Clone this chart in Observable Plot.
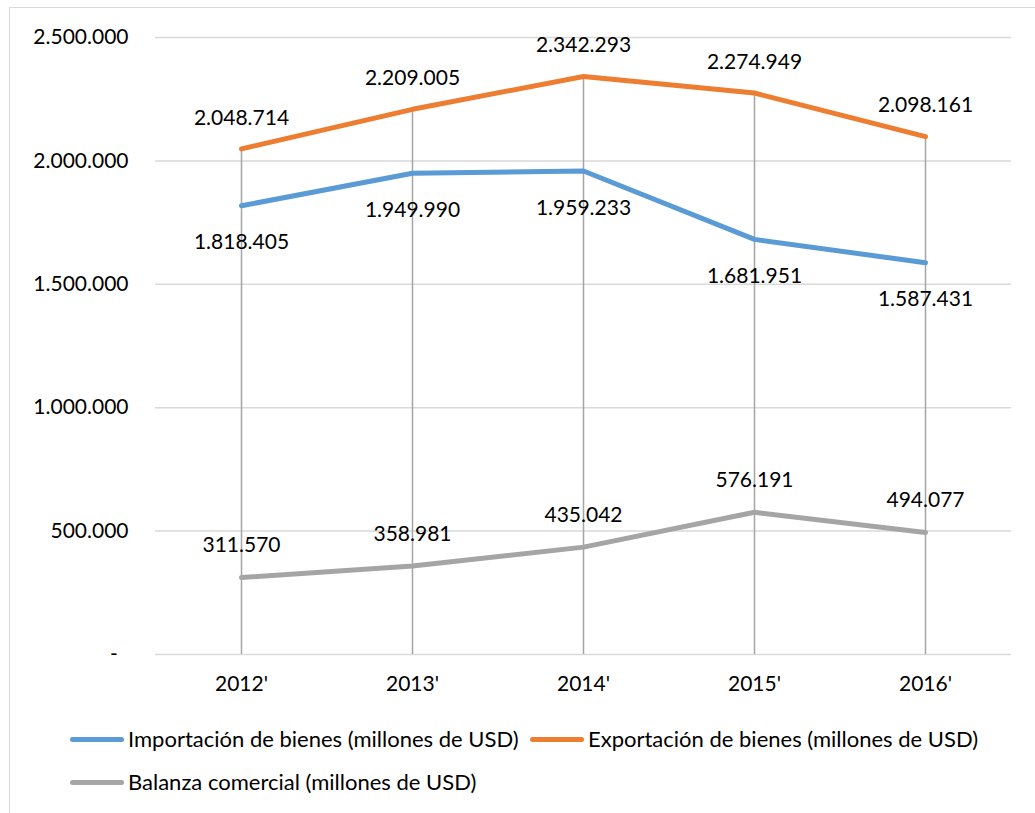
<!DOCTYPE html>
<html>
<head>
<meta charset="utf-8">
<script src="https://cdn.jsdelivr.net/npm/d3@7"></script>
<script src="https://cdn.jsdelivr.net/npm/@observablehq/plot@0.6"></script>
<style>
  html, body { margin: 0; padding: 0; background: #fff; }
  body { width: 1035px; height: 813px; position: relative; overflow: hidden; font-family: Lato, "Open Sans", sans-serif; }
  #frame { position: absolute; left: 9px; top: 7px; width: 1040px; height: 820px; border-left: 1.5px solid #d9d9d9; border-top: 1.5px solid #d9d9d9; }
  #chart { position: absolute; left: 0; top: 0; }
  .leg { position: absolute; font-size: 22px; color: #000; white-space: nowrap; line-height: 26px; }
</style>
</head>
<body>
<div id="frame"></div>
<div id="chart"></div>
<div id="legend"></div>
<script>
const years = ["2012'", "2013'", "2014'", "2015'", "2016'"];
const importacion = [1818405, 1949990, 1959233, 1681951, 1587431];
const exportacion = [2048714, 2209005, 2342293, 2274949, 2098161];
const balanza = [311570, 358981, 435042, 576191, 494077];
const yTicks = [0, 500000, 1000000, 1500000, 2000000, 2500000];
const seriesNames = [
  "Importación de bienes (millones de USD)",
  "Exportación de bienes (millones de USD)",
  "Balanza comercial (millones de USD)"
];
const colors = ["#5b9bd5", "#ed7d31", "#a5a5a5"];

const loc = d3.formatLocale({decimal: ",", thousands: ".", grouping: [3], currency: ["", ""]});
const fmt = loc.format(",d");

const rows = (vals) => years.map((y, i) => ({year: y, value: vals[i]}));
const imp = rows(importacion), exp = rows(exportacion), bal = rows(balanza);

const chart = Plot.plot({
  width: 1035,
  height: 700,
  marginLeft: 155,
  marginRight: 24,
  marginTop: 37,
  marginBottom: 46,
  style: {fontFamily: "Lato, 'Open Sans', sans-serif", fontSize: "21px", color: "#000", background: "transparent"},
  x: {type: "point", domain: years, padding: 0.5, label: null},
  y: {domain: [0, 2500000], label: null},
  marks: [
    Plot.ruleY(yTicks, {stroke: "#d9d9d9", strokeWidth: 1.5}),
    Plot.ruleX(exp, {x: "year", y1: 0, y2: "value", stroke: "#a5a5a5", strokeWidth: 1.5}),
    Plot.line(imp, {x: "year", y: "value", stroke: colors[0], strokeWidth: 5, strokeLinecap: "round", strokeLinejoin: "round"}),
    Plot.line(exp, {x: "year", y: "value", stroke: colors[1], strokeWidth: 5, strokeLinecap: "round", strokeLinejoin: "round"}),
    Plot.line(bal, {x: "year", y: "value", stroke: colors[2], strokeWidth: 5, strokeLinecap: "round", strokeLinejoin: "round"}),
    Plot.text(exp, {x: "year", y: "value", text: d => fmt(d.value), dy: -31, fill: "#000"}),
    Plot.text(imp, {x: "year", y: "value", text: d => fmt(d.value), dy: 37, fill: "#000"}),
    Plot.text(bal, {x: "year", y: "value", text: d => fmt(d.value), dy: -32, fill: "#000"}),
    Plot.axisY(yTicks, {tickSize: 0, tickPadding: 27, tickFormat: d => d === 0 ? "-\u00a0\u00a0" : fmt(d), fill: "#000"}),
    Plot.axisX({tickSize: 0, tickPadding: 22, fill: "#000"})
  ]
});
document.getElementById("chart").appendChild(chart);

const legendItems = [
  {name: seriesNames[0], color: colors[0], sx: 70, tx: 128, cy: 739},
  {name: seriesNames[1], color: colors[1], sx: 530, tx: 588, cy: 739},
  {name: seriesNames[2], color: colors[2], sx: 70, tx: 128, cy: 782}
];
const legend = document.getElementById("legend");
for (const it of legendItems) {
  const sw = document.createElement("div");
  sw.style.position = "absolute";
  sw.style.left = it.sx + "px";
  sw.style.top = (it.cy - 2.5) + "px";
  sw.style.width = (it.tx - it.sx - 4) + "px";
  sw.style.height = "5px";
  sw.style.borderRadius = "3px";
  sw.style.background = it.color;
  legend.appendChild(sw);
  const t = document.createElement("div");
  t.className = "leg";
  t.style.left = it.tx + "px";
  t.style.top = (it.cy - 13) + "px";
  t.textContent = it.name;
  legend.appendChild(t);
}
</script>
</body>
</html>
